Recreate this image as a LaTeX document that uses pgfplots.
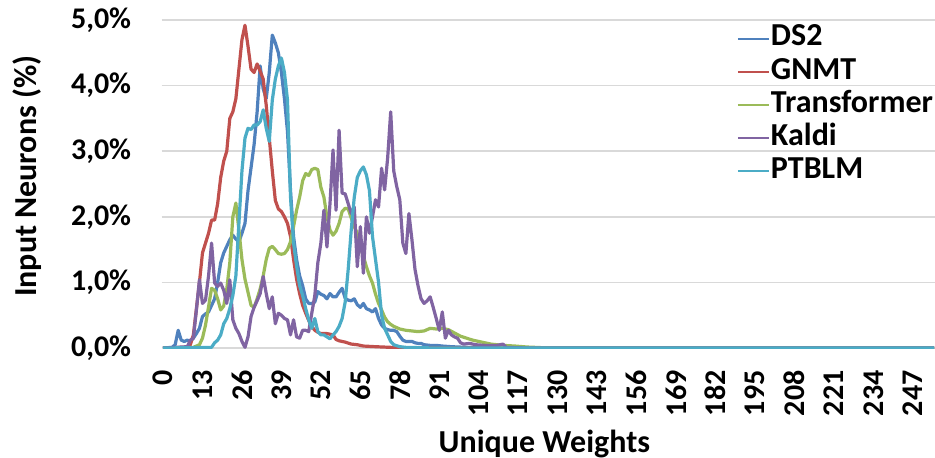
\documentclass[border=0pt]{standalone}
\usepackage{fontspec}
\setmainfont{Carlito}
\usepackage{pgfplots}
\pgfplotsset{compat=1.18}
\definecolor{cDS}{HTML}{4F81BD}
\definecolor{cGN}{HTML}{C0504D}
\definecolor{cTR}{HTML}{9BBB59}
\definecolor{cKA}{HTML}{8064A2}
\definecolor{cPT}{HTML}{4BACC6}
\definecolor{gridc}{HTML}{D9D9D9}
\begin{document}
\begin{tikzpicture}
\path[use as bounding box] (-80.75pt,-54.5pt) rectangle (386.75pt,174pt);
\begin{axis}[
  at={(0,0)}, anchor=south west,
  scale only axis, width=386.75pt, height=164pt,
  xmin=-0.5, xmax=254.3, ymin=0, ymax=5,
  axis line style={draw=none},
  tick style={draw=none},
  ymajorgrids, major grid style={gridc, line width=0.8pt},
  xtick={0,13,...,247},
  ytick={0,1,2,3,4,5},
  yticklabels={{0,0\%},{1,0\%},{2,0\%},{3,0\%},{4,0\%},{5,0\%}},
  /pgf/number format/assume math mode=true,
  ticklabel style={font=\bfseries\fontsize{15}{18}\selectfont},
  yticklabel style={anchor=east, inner sep=0pt, xshift=-15pt},
  xticklabel style={yshift=-11pt, rotate=90, anchor=east, inner sep=0pt},
  xlabel={Unique Weights},
  ylabel={Input Neurons (\%)},
  label style={font=\bfseries\fontsize{16}{19}\selectfont},
  xlabel style={at={(axis description cs:0.495,0)}, anchor=base, yshift=-52pt},
  ylabel style={at={(axis description cs:-0.174,0.524)}, anchor=center},
  legend cell align=left,
  legend image code/.code={\draw[#1, line width=1pt] (0pt,0pt) -- (15.5pt,0pt);},
  legend style={at={(rel axis cs:0.744,0.994)}, anchor=north west, draw=none, fill=none,
    inner sep=0pt, outer sep=0pt, row sep=0pt, column sep=0pt,
    nodes={inner sep=0.5pt, text height=11.5pt, text depth=4.1pt,
      font=\bfseries\fontsize{16}{19}\selectfont}},
  every axis plot/.append style={line width=1.6pt, line join=round, mark=none},
]
\addplot[cDS] coordinates {
(0,0)(3,0.01)(4,0.05)(5,0.27)(6,0.12)(7,0.1)(8,0.12)(9,0.1)(10,0.15)(11,0.22)(12,0.3)
(13,0.48)(14,0.52)(15,0.55)(16,0.65)(17,0.75)(18,1.0)(19,1.3)(20,1.45)(21,1.55)(22,1.65)
(23,1.72)(24,1.66)(25,1.62)(26,1.75)(27,1.9)(28,2.4)(29,2.75)(30,3.1)(31,3.6)(32,4.3)
(33,3.95)(34,3.8)(35,4.2)(36,4.77)(37,4.65)(38,4.5)(39,4.2)(40,3.8)(41,3.3)(42,2.4)
(43,1.7)(44,1.35)(45,1.1)(46,0.95)(47,0.75)(48,0.68)(49,0.68)(50,0.7)(51,0.86)(52,0.82)
(53,0.8)(54,0.75)(55,0.83)(56,0.78)(57,0.78)(58,0.85)(59,0.91)(60,0.76)(61,0.73)(62,0.72)
(63,0.75)(64,0.66)(65,0.62)(66,0.68)(67,0.6)(68,0.58)(69,0.55)(70,0.6)(71,0.45)(72,0.35)
(73,0.3)(74,0.28)(75,0.27)(76,0.27)(77,0.25)(78,0.18)(79,0.12)(80,0.1)(81,0.1)(82,0.1)
(83,0.08)(84,0.07)(85,0.07)(86,0.05)(88,0.04)(90,0.04)(92,0.03)(95,0.02)(100,0.01)
(110,0.005)(120,0)(254,0)};
\addlegendentry{DS2}
\addplot[cGN] coordinates {
(0,0)(8,0.01)(9,0.05)(10,0.2)(11,0.6)(12,1.0)(13,1.45)(14,1.6)(15,1.75)(16,1.95)(17,1.95)
(18,2.2)(19,2.6)(20,2.85)(21,3.0)(22,3.5)(23,3.6)(24,3.8)(25,4.25)(26,4.7)(27,4.92)
(28,4.6)(29,4.25)(30,4.2)(31,4.33)(32,4.22)(33,4.1)(34,3.7)(35,3.2)(36,2.7)(37,2.25)
(38,2.12)(39,2.08)(40,2.0)(41,1.9)(42,1.7)(43,1.35)(44,1.05)(45,0.83)(46,0.65)(47,0.53)
(48,0.42)(49,0.33)(50,0.27)(51,0.24)(52,0.22)(53,0.22)(54,0.22)(55,0.21)(56,0.2)(57,0.13)
(58,0.11)(59,0.1)(60,0.09)(62,0.06)(64,0.05)(66,0.03)(70,0.02)(75,0.01)(80,0.005)(90,0)(254,0)};
\addlegendentry{GNMT}
\addplot[cTR] coordinates {
(0,0)(10,0.01)(12,0.05)(13,0.15)(14,0.35)(15,0.63)(16,0.91)(17,0.88)(18,0.75)(19,0.58)
(20,0.64)(21,0.9)(22,1.3)(23,2.0)(24,2.21)(25,1.8)(26,1.35)(27,1.05)(28,0.85)(29,0.65)
(30,0.62)(31,0.75)(32,0.9)(33,1.1)(34,1.35)(35,1.52)(36,1.55)(37,1.5)(38,1.44)(39,1.43)
(40,1.44)(41,1.5)(42,1.62)(43,1.85)(44,2.1)(45,2.3)(46,2.55)(47,2.66)(48,2.63)(49,2.72)
(50,2.74)(51,2.72)(52,2.45)(53,2.3)(54,2.0)(55,1.8)(56,1.72)(57,1.78)(58,1.9)(59,2.08)
(60,2.13)(61,2.12)(62,1.98)(63,1.85)(64,1.75)(65,1.55)(66,1.4)(67,1.24)(68,1.1)(69,0.99)
(70,0.82)(71,0.68)(72,0.58)(73,0.47)(74,0.4)(75,0.36)(76,0.33)(77,0.31)(78,0.29)(79,0.28)
(80,0.27)(82,0.26)(84,0.25)(86,0.26)(88,0.3)(90,0.29)(92,0.3)(94,0.28)(96,0.23)(98,0.18)
(100,0.15)(102,0.12)(104,0.1)(106,0.08)(108,0.06)(112,0.04)(116,0.03)(120,0.015)(125,0.005)
(130,0)(254,0)};
\addlegendentry{Transformer}
\addplot[cKA] coordinates {
(0,0)(8,0.02)(9,0.12)(10,0.15)(11,0.58)(12,1.04)(13,0.68)(14,0.73)(15,1.1)(16,1.6)(17,0.99)
(18,0.94)(19,0.99)(20,0.88)(21,0.68)(22,1.04)(23,0.43)(24,0.3)(25,0.22)(26,0.1)(27,0.01)
(28,0.17)(29,0.48)(30,0.62)(31,0.72)(32,0.83)(33,1.09)(34,0.83)(35,0.6)(36,0.78)(37,0.37)
(38,0.53)(39,0.5)(40,0.45)(41,0.43)(42,0.2)(43,0.43)(44,0.17)(45,0.15)(46,0.27)(47,0.27)
(48,0.25)(49,0.53)(50,0.8)(51,1.3)(52,1.6)(53,2.1)(54,1.54)(55,2.2)(56,3.02)(57,2.1)
(58,3.32)(59,2.36)(60,2.35)(61,2.2)(62,2.05)(63,2.15)(64,1.24)(65,1.85)(66,1.14)(67,2.0)
(68,1.75)(69,2.0)(70,2.26)(71,2.15)(72,2.74)(73,2.41)(74,2.9)(75,3.6)(76,2.7)(77,2.46)
(78,2.26)(79,1.6)(80,1.44)(81,2.05)(82,1.65)(83,1.2)(84,0.95)(85,0.75)(86,0.68)(87,0.72)
(88,0.78)(89,0.62)(90,0.45)(91,0.27)(92,0.55)(93,0.15)(94,0.27)(95,0.2)(96,0.17)(97,0.15)
(98,0.08)(99,0.06)(101,0.07)(103,0.05)(106,0.04)(110,0.04)(112,0.06)(113,0.01)(120,0)(254,0)};
\addlegendentry{Kaldi}
\addplot[cPT] coordinates {
(0,0)(16,0.01)(17,0.08)(18,0.12)(19,0.2)(20,0.37)(21,0.45)(22,0.6)(23,0.8)(24,1.1)(25,1.9)
(26,2.7)(27,3.2)(28,3.35)(29,3.33)(30,3.4)(31,3.4)(32,3.45)(33,3.63)(34,3.35)(35,3.15)
(36,3.78)(37,4.1)(38,4.3)(39,4.42)(40,4.2)(41,3.78)(42,2.3)(43,1.6)(44,1.25)(45,0.95)
(46,0.8)(47,0.6)(48,0.43)(49,0.3)(50,0.45)(51,0.25)(52,0.2)(53,0.2)(54,0.17)(55,0.14)
(56,0.2)(57,0.25)(58,0.33)(59,0.45)(60,0.7)(61,1.2)(62,1.8)(63,2.3)(64,2.6)(65,2.7)
(66,2.76)(67,2.64)(68,2.4)(69,1.7)(70,1.35)(71,1.0)(72,0.5)(73,0.3)(74,0.2)(75,0.1)
(76,0.05)(78,0.02)(80,0.01)(90,0)(254,0)};
\addlegendentry{PTBLM}
\end{axis}
\end{tikzpicture}
\end{document}
